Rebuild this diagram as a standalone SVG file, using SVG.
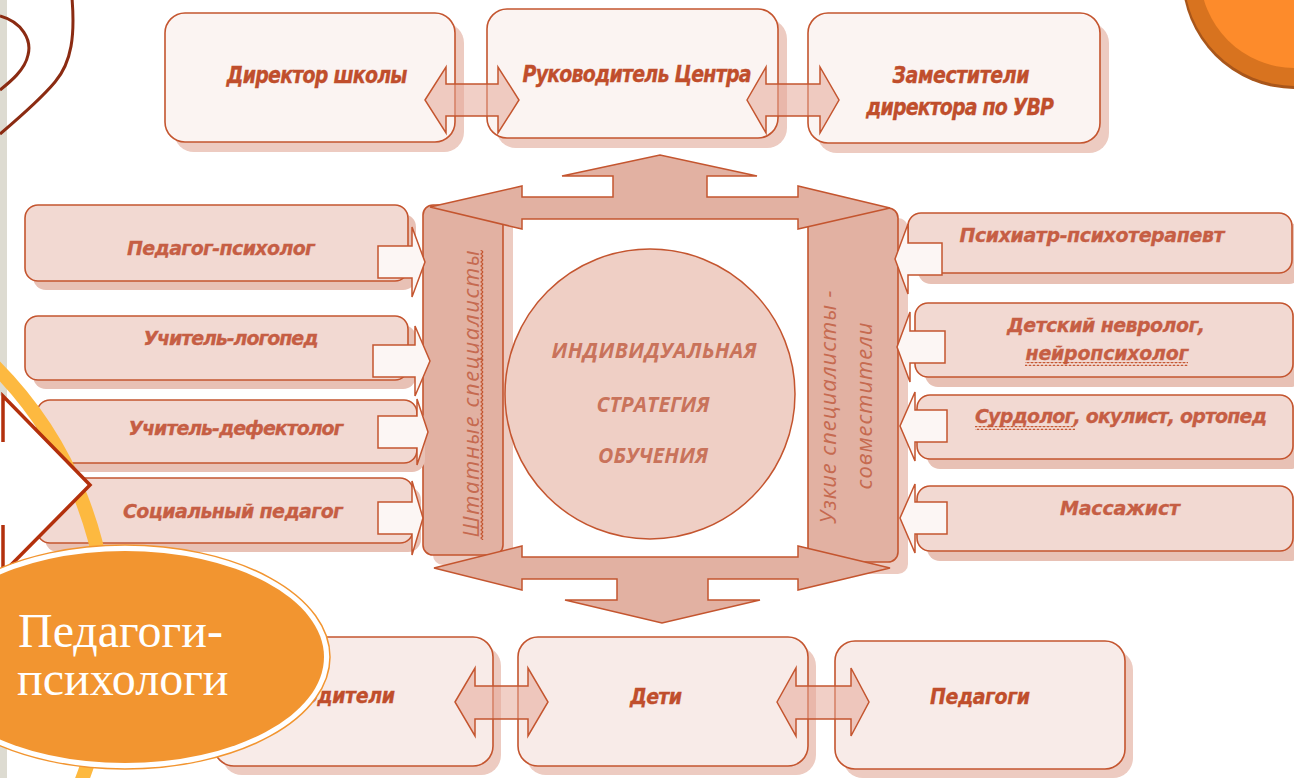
<svg xmlns="http://www.w3.org/2000/svg" width="1294" height="778" viewBox="0 0 1294 778">
<defs>
<style>
.bt{fill:#fbf4f2;stroke:#c4552f;stroke-width:1.6}
.bm{fill:#f2d9d2;stroke:#c4552f;stroke-width:1.6}
.bb{fill:#f8ebe8;stroke:#c4552f;stroke-width:1.6}
.sh{fill:#edcbc1}
.shm{fill:#e8c1b5}
.bar{fill:#e2b1a2;stroke:#c4552f;stroke-width:1.6}
.t{font-family:"DejaVu Sans","Open Sans",sans-serif;font-weight:700;font-style:oblique;font-size:19px;fill:#c04e2c;text-anchor:middle;stroke:#c04e2c;stroke-width:0.3}
.tm{fill:#c65e44;stroke:#c65e44}
.tc{font-family:"Open Sans","DejaVu Sans",sans-serif;font-weight:700;font-style:italic;font-size:21px;fill:#c9735b;text-anchor:middle}
.tv{font-family:"Open Sans","DejaVu Sans",sans-serif;font-style:italic;font-size:22px;fill:#c66a50;text-anchor:middle}
.big{fill:#e2b1a2;stroke:#c4552f;stroke-width:1.5;stroke-linejoin:miter}
.dbl{fill:#e6a898;fill-opacity:.55;stroke:#c4552f;stroke-width:1.5}
.blk{fill:#fcf6f4;stroke:#c4552f;stroke-width:1.5}
.wv{fill:url(#waveH)}
</style>
<pattern id="waveH" width="4" height="4" patternUnits="userSpaceOnUse"><path d="M0,3 L2,1 L4,3" fill="none" stroke="#c4552f" stroke-width="1.2"/></pattern>
<pattern id="waveV" width="4" height="4" patternUnits="userSpaceOnUse"><path d="M3,0 L1,2 L3,4" fill="none" stroke="#c4552f" stroke-width="1.2"/></pattern>
</defs>
<rect x="0" y="0" width="1294" height="778" fill="#ffffff"/>
<rect x="0" y="0" width="7" height="778" fill="#dddbd1"/>
<g fill="none" stroke="#8b2b12" stroke-width="3">
<path d="M0,16 C22,22 32,40 28,55 C25,70 10,82 0,90"/>
<path d="M72,-2 C75,35 72,62 55,82 C40,100 20,117 0,134"/>
</g>
<g id="deco-topright">
<circle cx="1295" cy="-24" r="113" fill="#a9561a"/>
<circle cx="1295" cy="-25" r="111" fill="#d8731f"/>
<circle cx="1295" cy="-27" r="95" fill="#fd8b2b"/>
</g>

<g id="n-direktor"><rect class="sh" x="174" y="23" width="290" height="129" rx="20"/><rect class="bt" x="165" y="13" width="290" height="129" rx="20"/><text class="t" transform="translate(317,83) scale(1,1.2)" textLength="181">Директор школы</text></g>
<g id="n-rukovoditel"><rect class="sh" x="496" y="19" width="291" height="129" rx="20"/><rect class="bt" x="487" y="9" width="291" height="129" rx="20"/><text class="t" transform="translate(637,82) scale(1,1.2)" textLength="229">Руководитель Центра</text></g>
<g id="n-zam"><rect class="sh" x="817" y="23" width="292" height="130" rx="20"/><rect class="bt" x="808" y="13" width="292" height="130" rx="20"/><text class="t" transform="translate(961,83) scale(1,1.2)" textLength="137">Заместители</text><text class="t" transform="translate(960,115) scale(1,1.2)" textLength="188">директора по УВР</text></g>

<g id="n-shtat"><rect class="sh" x="433" y="215" width="80" height="350" rx="10"/><rect class="bar" x="423" y="205" width="80" height="350" rx="10"/><text class="tv" transform="translate(479,394) rotate(-90)" textLength="287">Штатные  специалисты</text><rect x="480" y="250" width="4" height="290" fill="url(#waveV)"/></g>
<g id="n-uzkie"><rect class="sh" x="818" y="218" width="90" height="356" rx="10"/><rect class="bar" x="808" y="208" width="90" height="354" rx="10"/><text class="tv" transform="translate(836,407) rotate(-90)" textLength="233">Узкие специалисты -</text><text class="tv" transform="translate(872,406) rotate(-90)" textLength="167">совместители</text></g>

<g id="n-center"><circle cx="650" cy="394" r="145" fill="#efcfc5" stroke="#c4552f" stroke-width="1.5"/><text class="tc" x="654" y="358" textLength="205">ИНДИВИДУАЛЬНАЯ</text><text class="tc" x="653" y="412" textLength="113">СТРАТЕГИЯ</text><text class="tc" x="653" y="463" textLength="110">ОБУЧЕНИЯ</text></g>

<g id="n-ped-psih"><rect class="shm" x="33" y="214" width="383" height="76" rx="13"/><rect class="bm" x="25" y="205" width="383" height="76" rx="13"/><text class="t tm" x="221" y="255" textLength="188">Педагог-психолог</text></g>
<g id="n-logoped"><rect class="shm" x="33" y="325" width="383" height="64" rx="13"/><rect class="bm" x="25" y="316" width="383" height="64" rx="13"/><text class="t tm" x="231" y="345" textLength="175">Учитель-логопед</text></g>
<g id="n-defektolog"><rect class="shm" x="45" y="409" width="380" height="63" rx="13"/><rect class="bm" x="37" y="400" width="380" height="63" rx="13"/><text class="t tm" x="236" y="435" textLength="215">Учитель-дефектолог</text></g>
<g id="n-socped"><rect class="shm" x="45" y="487" width="376" height="65" rx="13"/><rect class="bm" x="37" y="478" width="376" height="65" rx="13"/><text class="t tm" x="233" y="518" textLength="220">Социальный педагог</text></g>

<g id="n-psihiatr"><rect class="shm" x="918" y="223" width="384" height="61" rx="13"/><rect class="bm" x="908" y="213" width="384" height="60" rx="13"/><text class="t tm" x="1092" y="242" textLength="265">Психиатр-психотерапевт</text></g>
<g id="n-nevrolog"><rect class="shm" x="925" y="313" width="378" height="74" rx="13"/><rect class="bm" x="915" y="303" width="378" height="74" rx="13"/><text class="t tm" x="1106" y="332" textLength="198">Детский невролог,</text><text class="t tm" x="1107" y="360" textLength="163">нейропсихолог</text><rect class="wv" x="1025" y="362" width="163" height="4"/></g>
<g id="n-surdolog"><rect class="shm" x="927" y="405" width="376" height="64" rx="13"/><rect class="bm" x="917" y="395" width="376" height="64" rx="13"/><text class="t tm" x="1121" y="423" textLength="292">Сурдолог, окулист, ортопед</text><rect class="wv" x="975" y="426" width="100" height="4"/></g>
<g id="n-massazhist"><rect class="shm" x="927" y="496" width="376" height="65" rx="13"/><rect class="bm" x="917" y="486" width="376" height="65" rx="13"/><text class="t tm" x="1120" y="515" textLength="120">Массажист</text></g>

<g id="n-roditeli"><rect class="sh" x="222" y="646" width="279" height="129" rx="20"/><rect class="bb" x="214" y="637" width="279" height="129" rx="20"/><text class="t" transform="translate(343,703) scale(1,1.08)" textLength="104">Родители</text></g>
<g id="n-deti"><rect class="sh" x="526" y="646" width="290" height="129" rx="20"/><rect class="bb" x="518" y="637" width="290" height="129" rx="20"/><text class="t" transform="translate(656,704) scale(1,1.08)" textLength="52">Дети</text></g>
<g id="n-pedagogi"><rect class="sh" x="843" y="650" width="290" height="128" rx="20"/><rect class="bb" x="835" y="641" width="290" height="128" rx="20"/><text class="t" transform="translate(980,704) scale(1,1.08)" textLength="100">Педагоги</text></g>

<g id="connectors">
<path class="big" d="M430,207 L522,186 L522,197 L613,197 L613,176 L562,176 L660,155 L757,176 L707,176 L707,197 L798,197 L798,186 L890,208 L798,229 L798,219 L522,219 L522,229 Z"/>
<path class="big" d="M434,568 L522,546 L522,557 L798,557 L798,546 L890,568 L798,590 L798,579 L708,579 L708,600 L760,600 L662,623 L565,600 L617,600 L617,579 L522,579 L522,590 Z"/>
<path class="dbl" d="M425,100 L446,67 L446,84 L498,84 L498,67 L519,100 L498,133 L498,116 L446,116 L446,133 Z"/>
<path class="dbl" d="M747,100 L766,67 L766,84 L820,84 L820,67 L839,100 L820,133 L820,116 L766,116 L766,133 Z"/>
<path class="dbl" d="M455,702 L475,668 L475,686 L528,686 L528,668 L548,702 L528,736 L528,719 L475,719 L475,736 Z"/>
<path class="dbl" d="M777,702 L796,668 L796,686 L851,686 L851,668 L869,702 L851,736 L851,719 L796,719 L796,736 Z"/>
<path class="blk" d="M378,246 L412,246 L412,227 L425,262 L412,297 L412,278 L378,278 Z"/>
<path class="blk" d="M373,345 L415,345 L415,326 L430,361 L415,396 L415,377 L373,377 Z"/>
<path class="blk" d="M378,416 L417,416 L417,399 L428,432 L417,465 L417,448 L378,448 Z"/>
<path class="blk" d="M378,502 L412,502 L412,481 L423,518 L412,555 L412,534 L378,534 Z"/>
<path class="blk" d="M942,243 L908,243 L908,224 L895,259 L908,294 L908,275 L942,275 Z"/>
<path class="blk" d="M945,331 L910,331 L910,312 L897,347 L910,382 L910,363 L945,363 Z"/>
<path class="blk" d="M947,410 L915,410 L915,392 L900,426 L915,461 L915,442 L947,442 Z"/>
<path class="blk" d="M947,502 L915,502 L915,484 L900,518 L915,553 L915,534 L947,534 Z"/>
</g>

<g id="deco-left">
<circle cx="-280" cy="640" r="388" fill="none" stroke="#fdb940" stroke-width="14"/>
<path d="M0,395 L90,485 L0,573 Z" fill="#ffffff"/>
<path d="M3,442 V396 L90,485 L3,573 V525" fill="none" stroke="#b3300c" stroke-width="3.5"/>
</g>
<g id="n-pedagogi-psihologi">
<ellipse cx="125" cy="657" rx="205" ry="112" fill="#ffffff" stroke="#f29530" stroke-width="1.5"/>
<ellipse cx="125" cy="657" rx="199" ry="106" fill="#f29530"/>
<text x="18" y="647" font-family="'Liberation Serif','Times New Roman',serif" font-size="48" fill="#ffffff">Педагоги-</text>
<text x="17" y="695" font-family="'Liberation Serif','Times New Roman',serif" font-size="48" fill="#ffffff">психологи</text>
</g>
</svg>
